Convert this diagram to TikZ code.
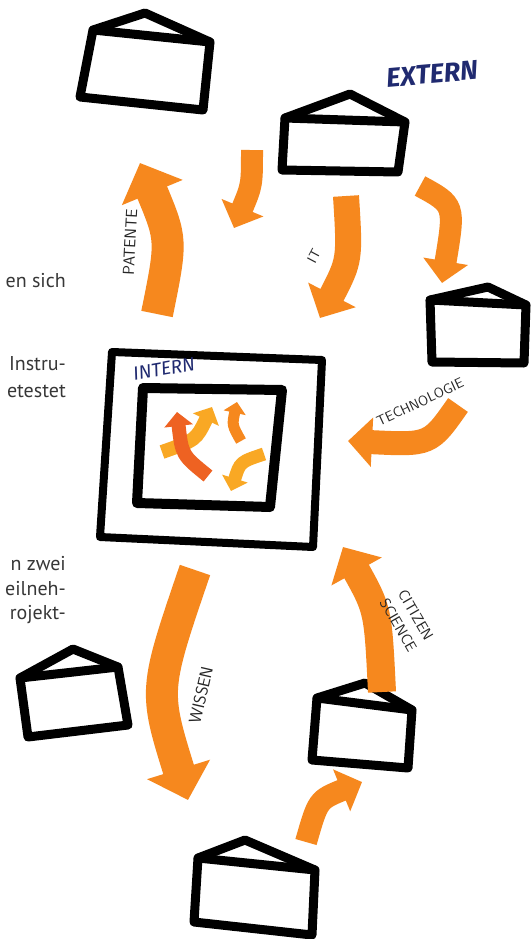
\documentclass[tikz,border=0pt]{standalone}
\usepackage{fontspec}
\setmainfont{PT Sans}
\newfontfamily\tagfont{Fira Sans}
\usetikzlibrary{arrows.meta}

\definecolor{orng}{RGB}{246,136,30}
\definecolor{orngdark}{RGB}{238,98,34}
\definecolor{orngyel}{RGB}{249,168,36}
\definecolor{navy}{RGB}{32,42,112}
\definecolor{bodytxt}{RGB}{55,55,55}

\tikzset{
  hse/.style={line width=9pt, line join=round, line cap=round, draw=black},
  fat/.style={line width=#1, draw=orng, -{Triangle[length=0pt 1, width=0pt 2]}},
  fat/.default=24pt,
  hand/.style={font=\sffamily\fontsize{#1}{#1}\selectfont, text=black!85, inner sep=0pt},
  hand/.default=16,
  body/.style={font=\fontsize{20}{22}\selectfont, text=bodytxt, anchor=base east, inner sep=0pt},
  tag/.style={font=\tagfont\itshape\fontsize{#1}{#1}\selectfont, text=navy, inner sep=0pt},
}

\newcommand{\house}[6]{% name, bottom left, bottom right, top right, top left, apex
  \draw[hse] #2 -- #3 -- #4 -- #5 -- cycle;
  \draw[hse] #5 -- #6 -- #4;
  \coordinate (#1) at #6;}

\begin{document}
\begin{tikzpicture}[x=1pt, y=-1pt]
\fill[white] (0,0) rectangle (532,939);
\useasboundingbox (0,0) rectangle (532,939);

% ---------- body text (cut off at the left) ----------
\node[body] (t1) at (66,287) {en sich};
\node[body] (t2) at (66,370) {Instru-};
\node[body] (t3) at (66,397) {etestet};
\node[body] (t4) at (66,570) {n zwei};
\node[body] (t5) at (66,595) {eilneh-};
\node[body] (t6) at (66,619) {rojekt-};

% ---------- houses ----------
\house{hA}{(80,97)}{(203,110)}{(210,42)}{(93,30)}{(145,13)}
\house{hB}{(282,170)}{(398,172)}{(405,122)}{(285,118)}{(350,94)}
\house{hC}{(432,362)}{(524,363)}{(526,305)}{(430,300)}{(488,287)}
\house{hD}{(28,737)}{(128,725)}{(118,667)}{(20,678)}{(73,649)}
\house{hE}{(312,760)}{(408,768)}{(412,710)}{(317,698)}{(365,683)}
\house{hF}{(194,922)}{(312,935)}{(315,870)}{(198,858)}{(245,840)}

% ---------- intern box ----------
\draw[hse, line width=8pt] (112,352) -- (322,360) -- (313,547) -- (100,537) -- cycle;
\draw[hse, line width=10pt] (143,388) -- (282,390) -- (270,507) -- (137,503) -- cycle;
\node[tag=19, rotate=10] (lInt) at (164,369) {INTERN};
\node[tag=27, rotate=5, font=\tagfont\bfseries\itshape\fontsize{27}{27}\selectfont] (lExt) at (432,74) {EXTERN};

% ---------- arrow ends ----------
\coordinate (patFrom) at (157,314);  \coordinate (patTo) at (140,163);
\coordinate (abFrom)  at (252,150);  \coordinate (abTo)  at (234,228);
\coordinate (itFrom)  at (346,196);  \coordinate (itTo)  at (320,318);
\coordinate (bcFrom)  at (420,186);  \coordinate (bcTo)  at (442,283);
\coordinate (teFrom)  at (458,405);  \coordinate (teTo)  at (348,441);
\coordinate (ciFrom)  at (382,692);  \coordinate (ciTo)  at (343,547);
\coordinate (wiFrom)  at (195,570);  \coordinate (wiTo)  at (188,800);
\coordinate (feFrom)  at (306,842);  \coordinate (feTo)  at (362,782);

% ---------- outer arrows ----------
\draw[fat=32pt] (patFrom) .. controls (172,240) .. (patTo);
\draw[fat=22pt] (abFrom) .. controls (252,185) .. (abTo);
\draw[fat=26pt] (itFrom) .. controls (350,260) .. (itTo);
\draw[fat=22pt] (bcFrom) .. controls (455,205) .. (bcTo);
\draw[fat=24pt] (teFrom) .. controls (430,445) .. (teTo);
\draw[fat=28pt] (ciFrom) .. controls (378,610) .. (ciTo);
\draw[fat=32pt] (wiFrom) .. controls (154,690) .. (wiTo);
\draw[fat=22pt] (feFrom) .. controls (318,800) .. (feTo);

% ---------- inner arrows ----------
\draw[fat=14pt, draw=orngyel] (162,452) .. controls (196,440) .. (212,407);
\draw[fat=14pt, draw=orngdark] (208,476) .. controls (182,455) .. (177,412);
\draw[fat=11pt] (241,441) .. controls (232,425) .. (237,402);
\draw[fat=13pt, draw=orngyel] (264,454) .. controls (240,462) .. (231,491);

% ---------- labels ----------
\node[hand=16, rotate=87] (lPat) at (130,242) {PATENTE};
\node[hand=14, rotate=62] (lIT) at (314,256) {IT};
\node[hand=14, rotate=25] (lTech) at (420,402) {TECHNOLOGIE};
\node[hand=15, rotate=-60, align=center] (lCit) at (407,620) {CITIZEN\\[5pt]SCIENCE};
\node[hand=17, rotate=77] (lWis) at (201,695) {WISSEN};
\end{tikzpicture}
\end{document}
